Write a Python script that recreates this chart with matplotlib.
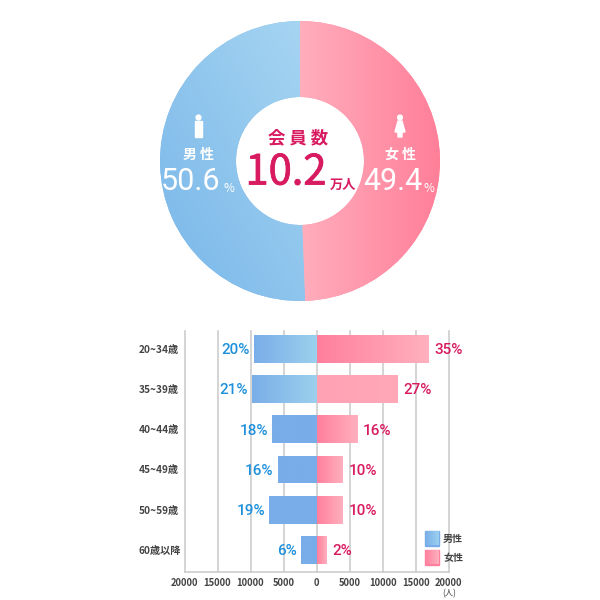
import numpy as np
import matplotlib
matplotlib.use("Agg")
import matplotlib.pyplot as plt
import matplotlib.patheffects as pe
from matplotlib.colors import LinearSegmentedColormap
from matplotlib.patches import Circle, Rectangle, Polygon

plt.rcParams['font.family'] = ['Noto Sans CJK JP', 'DejaVu Sans']

# Data
shares = [50.6, 49.4]
ageGroups = ["20~34歳", "35~39歳", "40~44歳", "45~49歳", "50~59歳", "60歳以降"]
maleCounts = [9430, 9830, 6700, 5900, 7200, 2300]
femaleCounts = [16900, 12150, 6100, 3930, 3930, 1460]
malePct = [20, 21, 18, 16, 19, 6]
femalePct = [35, 27, 16, 10, 10, 2]
xTicks = [-20000, -15000, -10000, -5000, 0, 5000, 10000, 15000, 20000]

# Colours
pink = "#D81B60"
blue = "#1E90DC"
maleGrads = [("#7AAEE8", "#9CD0EE"), ("#7AAEE8", "#9CD0EE"), ("#78ADE9", "#78ADE9"),
             ("#78ADE9", "#78ADE9"), ("#78ADE9", "#78ADE9"), ("#78ADE9", "#78ADE9")]
femaleGrads = [("#FF7F9C", "#FFB0BE"), ("#FFA2B4", "#FFA8B8"), ("#FF7F9C", "#FFB0BE"),
               ("#FF7F9C", "#FFB0BE"), ("#FF7F9C", "#FFB0BE"), ("#FF7F9C", "#FFB0BE")]

def axesFromPixels(left, top, right, bottom):
    return fig.add_axes([left/600, 1-bottom/600, (right-left)/600, (bottom-top)/600])

def gradientFill(ax, patch, c0, c1, extent, diagonal=False):
    cmap = LinearSegmentedColormap.from_list("g", [c0, c1])
    xx, yy = np.meshgrid(np.linspace(0, 1, 128), np.linspace(0, 1, 128))
    img = (xx+yy)/2 if diagonal else xx
    im = ax.imshow(img, cmap=cmap, extent=extent, origin="lower", aspect="auto",
                   vmin=0, vmax=1, zorder=3, interpolation="bilinear")
    im.set_clip_path(patch)

fig = plt.figure(figsize=(6, 6), dpi=100, facecolor="white")

# Donut
axPie = axesFromPixels(160, 21, 440, 301)
wedges, _ = axPie.pie(shares, startangle=90, counterclock=True, radius=1,
                      colors=["#8ABFEA", "#FF9AAE"], wedgeprops=dict(width=1-64/140))
gradientFill(axPie, wedges[0], "#78B6E9", "#A8D6F2", (-1, 0.1, -1, 1), diagonal=True)
gradientFill(axPie, wedges[1], "#FFB2C0", "#FF7F99", (-0.1, 1, -1, 1))
axPie.set_xlim(-1, 1)
axPie.set_ylim(-1, 1)
axPie.axis("off")

# Age pyramid
ax = axesFromPixels(184.5, 331, 448.7, 572)
yPos = np.arange(len(ageGroups))
barHeight = 0.69
for x in xTicks:
    ax.axvline(x, color="#CDCDCD", lw=1.2, zorder=1, clip_on=False)
maleBars = ax.barh(yPos, -np.array(maleCounts), height=barHeight, color="#78ADE9", zorder=2)
femaleBars = ax.barh(yPos, femaleCounts, height=barHeight, color="#FF8FA8", zorder=2)
for i in range(len(ageGroups)):
    y = yPos[i]
    gradientFill(ax, maleBars[i], maleGrads[i][0], maleGrads[i][1],
                 (-maleCounts[i], 0, y-barHeight/2, y+barHeight/2))
    gradientFill(ax, femaleBars[i], femaleGrads[i][0], femaleGrads[i][1],
                 (0, femaleCounts[i], y-barHeight/2, y+barHeight/2))
    ax.annotate("{}%".format(malePct[i]), (-maleCounts[i], y), xytext=(-3, -1),
                textcoords="offset points", ha="right", va="center",
                color=blue, fontsize=11, family="Roboto", fontweight="medium", zorder=5)
    ax.annotate("{}%".format(femalePct[i]), (femaleCounts[i], y), xytext=(4.5, -1),
                textcoords="offset points", ha="left", va="center",
                color=pink, fontsize=11, family="Roboto", fontweight="medium", zorder=5)
ax.set_xlim(-20000, 20000)
ax.set_ylim(5.546, -0.44)
ax.set_xticks(xTicks)
ax.set_xticklabels([str(abs(v)) for v in xTicks], fontsize=6.8, color="#444444", fontweight="bold")
ax.set_yticks(yPos)
ax.set_yticklabels(ageGroups, fontsize=7.3, color="#444444", ha="left", fontweight="bold")
ax.tick_params(axis="y", length=0, pad=32.8)
ax.tick_params(axis="x", length=0, pad=4)
for s in ["top", "left", "right"]:
    ax.spines[s].set_visible(False)
ax.spines["bottom"].set_color("#CDCDCD")
ax.spines["bottom"].set_linewidth(1.2)
ax.patch.set_alpha(0)

# Overlay in pixel coordinates for the texts and icons around the charts
ov = fig.add_axes([0, 0, 1, 1], zorder=10)
ov.set_xlim(0, 600)
ov.set_ylim(600, 0)
ov.axis("off")
ov.patch.set_alpha(0)

# Person icons
ov.add_patch(Circle((198.5, 117.5), 2.4, color="white"))
ov.add_patch(Rectangle((195, 121), 7, 16, color="white"))
ov.add_patch(Circle((400, 117.5), 2.4, color="white"))
ov.add_patch(Polygon([(398, 121), (402, 121), (405, 132), (402, 132), (402, 137),
                      (398, 137), (398, 132), (395, 132)], color="white"))

# Donut labels
ov.text(198, 155, "男 性", color="white", fontsize=10, fontweight="bold", ha="center", va="center")
ov.text(400, 155, "女 性", color="white", fontsize=10, fontweight="bold", ha="center", va="center")
ov.text(191, 181, "{}".format(shares[0]), color="white", fontsize=22, ha="center", va="center", family="Roboto")
ov.text(393, 181, "{}".format(shares[1]), color="white", fontsize=22, ha="center", va="center", family="Roboto")
ov.text(229, 188, "%", color="white", fontsize=8.5, ha="center", va="center")
ov.text(429, 188, "%", color="white", fontsize=8.5, ha="center", va="center")
ov.text(298, 138, "会 員 数", color=pink, fontsize=12.5, fontweight="bold", ha="center", va="center")
ov.text(286, 173, "10.2", color=pink, fontsize=30, ha="center", va="center",
        path_effects=[pe.withStroke(linewidth=0.6, foreground=pink)])
ov.text(343, 185, "万人", color=pink, fontsize=9.5, fontweight="bold", ha="center", va="center")

# Legend
for top, grad, label in [(531, ("#78ADE9", "#9CD0EE"), "男性"), (550, ("#FF7F9C", "#FFB0BE"), "女性")]:
    swatch = Rectangle((425, top), 14, 14.5, color=grad[0])
    ov.add_patch(swatch)
    gradientFill(ov, swatch, grad[0], grad[1], (425, 439, top+14.5, top))
    ov.text(443, top+7.5, label, color="#444444", fontsize=7.2, fontweight="bold", ha="left", va="center")
ov.text(449, 593.5, "(人)", color="#444444", fontsize=6, ha="center", va="center")
ov.set_xlim(0, 600)
ov.set_ylim(600, 0)

fig.savefig("out.png", dpi=100)
